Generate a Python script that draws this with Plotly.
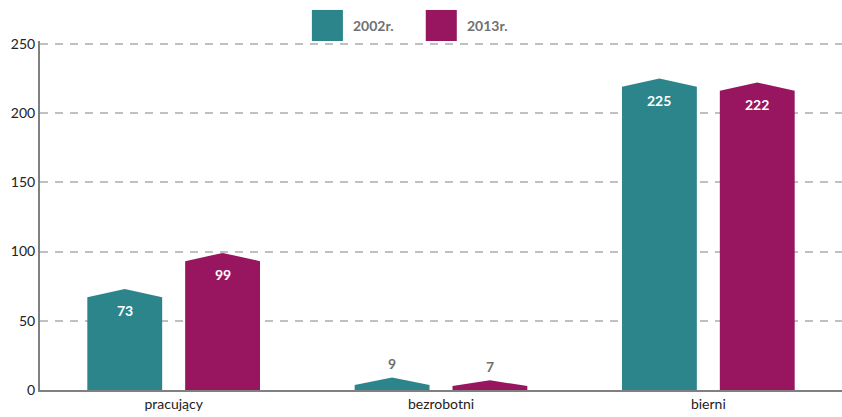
import plotly.graph_objects as go

categories = ["pracujący", "bezrobotni", "bierni"]
series_names = ["2002r.", "2013r."]
values_2002 = [73, 9, 225]
values_2013 = [99, 7, 222]
colors = ["#2B858A", "#98165F"]
y_ticks = [0, 50, 100, 150, 200, 250]

FONT = "Lato, 'Open Sans', sans-serif"
offsets = [-0.183, 0.183]
half_w = 0.14

fig = go.Figure()
annotations = []
for s, (name, vals) in enumerate(zip(series_names, [values_2002, values_2013])):
    for i, v in enumerate(vals):
        c = i + offsets[s]
        drop = min(6.0, v * 0.6)
        xs = [c - half_w, c - half_w, c, c + half_w, c + half_w, c - half_w]
        ys = [0, v - drop, v, v - drop, 0, 0]
        fig.add_trace(go.Scatter(
            x=xs, y=ys, mode="lines", fill="toself", fillcolor=colors[s],
            line=dict(width=0, color=colors[s]), showlegend=False, hoverinfo="skip",
            name=name,
        ))
        inside = v >= 20
        annotations.append(dict(
            x=c, y=v, xref="x", yref="y", text=f"<b>{v}</b>", showarrow=False,
            yshift=-22 if inside else 14,
            font=dict(family=FONT, size=14, color="white" if inside else "#6f6f6f"),
        ))

# legend drawn as layout items
shapes = []
leg_x = [0.339, 0.481]
for s, name in enumerate(series_names):
    shapes.append(dict(type="rect", xref="paper", yref="paper",
                       x0=leg_x[s], x1=leg_x[s] + 0.0387, y0=1.0, y1=1.089,
                       fillcolor=colors[s], line=dict(width=0)))
    annotations.append(dict(x=leg_x[s] + 0.049, y=1.0444, xref="paper", yref="paper",
                            text=f"<b>{name}</b>", showarrow=False, xanchor="left",
                            yanchor="middle",
                            font=dict(family=FONT, size=14, color="#707070")))

fig.update_layout(
    width=842, height=417,
    margin=dict(l=40, r=0, t=41, b=27),
    paper_bgcolor="white", plot_bgcolor="white",
    showlegend=False,
    shapes=shapes,
    annotations=annotations,
    font=dict(family=FONT, size=14, color="#222222"),
    xaxis=dict(
        range=[-0.5, 2.5], tickvals=[0, 1, 2], ticktext=categories,
        showgrid=False, zeroline=False, showline=True, linecolor="#808080",
        linewidth=2, ticks="", tickfont=dict(size=14, color="#222222"),
    ),
    yaxis=dict(
        range=[0, 252], tickvals=y_ticks, showgrid=True, gridcolor="#c0c0c0",
        griddash="8px,7px", gridwidth=1.5, zeroline=False, showline=True,
        linecolor="#808080", linewidth=2, ticks="",
        tickfont=dict(size=14, color="#222222"),
    ),
)

fig.write_html("out.html")
